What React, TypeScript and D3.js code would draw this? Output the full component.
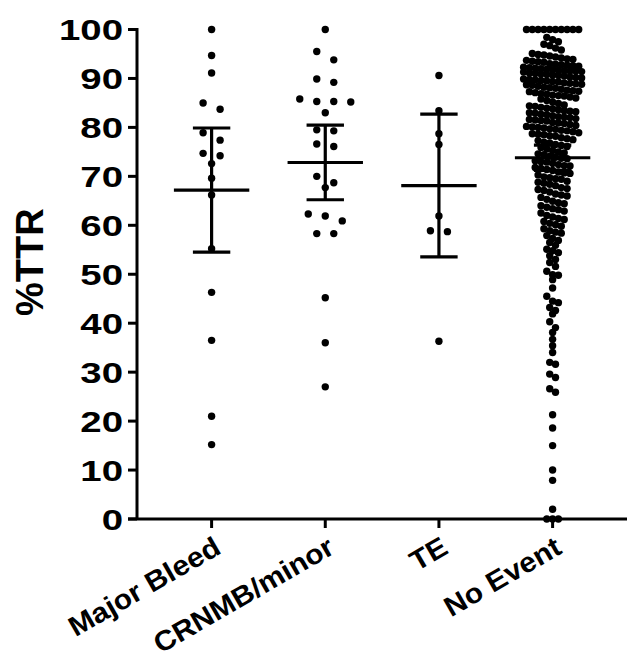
import React, { useRef, useEffect } from "react";
import * as d3 from "d3";

// %TTR per outcome group
const categories = ["Major Bleed", "CRNMB/minor", "TE", "No Event"];

const majorBleed = [
  100, 94.7, 91.1, 85.0, 83.7, 78.9, 77.4, 74.7, 74.2, 72.6, 69.6, 66.2, 55.2,
  46.3, 36.5, 21.0, 15.2,
];

const crnmbMinor = [
  100, 95.5, 93.8, 89.9, 89.2, 85.8, 85.3, 85.3, 85.2, 83.0, 79.5, 79.3, 76.6,
  76.1, 70.0, 68.7, 67.7, 62.3, 61.9, 60.9, 58.3, 58.3, 45.2, 36.0, 27.0,
];

const te = [90.6, 83.4, 78.7, 76.5, 61.9, 58.9, 58.7, 36.3];

const noEvent = [
  100, 100, 100, 100, 100, 100, 100, 100, 100, 100,
  98.4, 97.9, 97.5, 97.0, 96.7, 96.2, 95.8,
  95.1, 94.9, 94.8, 94.6, 94.4, 94.2, 94.0, 93.9, 93.7, 93.5, 93.4, 93.3, 93.0,
  92.9, 92.8, 92.7, 92.6, 92.5, 92.3, 92.2, 92.1, 92.0, 91.9, 91.8, 91.7, 91.6,
  91.5, 91.5, 91.4, 91.3, 91.1, 91.0, 90.9, 90.8, 90.7, 90.6, 90.5, 90.3, 90.2,
  90.1, 89.9, 89.8, 89.7, 89.6, 89.5, 89.4, 89.3, 89.1, 89.0, 88.9, 88.8, 88.7,
  88.6, 88.4, 88.2, 88.1, 88.0, 87.8, 87.6, 87.5, 87.4, 87.3, 87.1, 86.9, 86.8,
  86.6, 86.5, 86.4, 86.2, 86.0, 85.8, 85.5, 85.2, 84.9,
  84.6, 84.4, 84.3, 84.1, 83.9, 83.8, 83.6, 83.4, 83.3, 83.2, 83.0, 82.9, 82.7,
  82.6, 82.4, 82.2, 82.1, 82.0, 81.8, 81.6, 81.5, 81.4, 81.3, 81.0, 80.9, 80.8,
  80.6, 80.4, 80.2, 80.1, 80.0, 79.9, 79.7, 79.6, 79.4, 79.3, 79.1, 78.9, 78.7,
  78.6, 78.5, 78.3, 78.2, 77.9, 77.7, 77.5, 77.3, 77.0, 76.8, 76.5, 76.3, 76.1,
  75.9, 75.6, 75.3, 75.0,
  74.8, 74.6, 74.4, 74.1, 73.9, 73.7, 73.6, 73.2, 73.0, 72.9, 72.7, 72.4, 72.2,
  72.1, 71.8, 71.6, 71.4, 71.2, 70.9, 70.7, 70.6, 70.3, 69.9, 69.7, 69.5, 69.4,
  69.0, 68.8, 68.6, 68.4, 68.1, 67.7, 67.5, 67.3, 67.1, 66.8, 66.4, 66.2, 66.0,
  65.7, 65.3,
  64.9, 64.6, 64.4, 64.0, 63.7, 63.4, 63.2, 62.9, 62.5, 62.0, 61.7, 61.4, 61.2,
  60.8, 60.4, 60.1, 59.8, 59.3, 58.9, 58.6, 58.4, 57.9,
  57.3, 56.9, 56.5, 55.9, 55.1, 54.8, 54.4, 53.8, 53.0, 52.4,
  51.6, 50.6, 49.9, 49.8, 48.9, 47.2, 45.5, 44.5, 44.2, 43.2, 42.6, 41.9, 40.3,
  39.1, 38.1, 36.7, 35.4, 34.0, 32.0, 31.6, 29.6, 28.9, 26.6, 25.9, 21.3, 18.6,
  15.0, 10.0, 7.9, 2.0, 0, 0, 0,
];

const groups = [majorBleed, crnmbMinor, te, noEvent];
const yTicks = [0, 10, 20, 30, 40, 50, 60, 70, 80, 90, 100];

const width = 630;
const height = 661;

// two-sided 95% t critical value (Cornish-Fisher expansion)
const tCrit = (df: number) => {
  const z = 1.959964;
  return (
    z +
    (z ** 3 + z) / (4 * df) +
    (5 * z ** 5 + 16 * z ** 3 + 3 * z) / (96 * df * df)
  );
};

// GraphPad-ish column scatter: bin into rows, centre each row
const swarm = (
  values: number[],
  rowH: number,
  spacing: number,
  maxPerRow = Infinity
) => {
  const sorted = [...values].sort((a, b) => b - a);
  const rows: number[][] = [];
  sorted.forEach((v) => {
    const last = rows[rows.length - 1];
    if (last && last[0] - v < rowH && last.length < maxPerRow) last.push(v);
    else rows.push([v]);
  });
  return rows.flatMap((r) =>
    r.map((v, i) => ({ v, dx: (i - (r.length - 1) / 2) * spacing }))
  );
};

const ScatterChart = () => {
  const svgRef = useRef<SVGSVGElement>(null);

  useEffect(() => {
    const svg = d3.select(svgRef.current);
    svg.selectAll("*").remove();

    const axisX = 137;
    const axisY = 519;

    const x = d3.scalePoint().domain(categories).range([211.6, 552.6]);
    const y = d3.scaleLinear().domain([0, 100]).range([axisY, 29.5]);

    const font = "'Liberation Sans', Arial, sans-serif";

    // dots
    groups.forEach((vals, gi) => {
      const big = vals.length > 50;
      const pts = big ? swarm(vals, 1.3, 5.8, 11) : swarm(vals, 1.8, 17);
      const cx = x(categories[gi])!;
      svg
        .append("g")
        .selectAll("circle")
        .data(pts)
        .join("circle")
        .attr("cx", (d) => cx + d.dx)
        .attr("cy", (d) => y(d.v))
        .attr("r", 3.7)
        .attr("fill", "#000");
    });

    // mean with 95% CI
    groups.forEach((vals, gi) => {
      const cx = x(categories[gi])!;
      const m = d3.mean(vals)!;
      const ci =
        (tCrit(vals.length - 1) * d3.deviation(vals)!) / Math.sqrt(vals.length);
      const g = svg
        .append("g")
        .attr("stroke", "#000")
        .attr("stroke-width", 3.2);
      g.append("line")
        .attr("x1", cx)
        .attr("x2", cx)
        .attr("y1", y(m - ci))
        .attr("y2", y(m + ci));
      [m - ci, m + ci].forEach((v) =>
        g
          .append("line")
          .attr("x1", cx - 18.7)
          .attr("x2", cx + 18.7)
          .attr("y1", y(v))
          .attr("y2", y(v))
      );
      g.append("line")
        .attr("x1", cx - 37.7)
        .attr("x2", cx + 37.7)
        .attr("y1", y(m))
        .attr("y2", y(m));
    });

    // y axis
    const yAxis = svg.append("g").attr("stroke", "#000").attr("stroke-width", 3);
    yAxis
      .append("line")
      .attr("x1", axisX)
      .attr("x2", axisX)
      .attr("y1", y(100) - 1.5)
      .attr("y2", axisY);
    yAxis
      .selectAll("line.tick")
      .data(yTicks)
      .join("line")
      .attr("class", "tick")
      .attr("x1", axisX - 9)
      .attr("x2", axisX)
      .attr("y1", (d) => y(d))
      .attr("y2", (d) => y(d));

    svg
      .append("g")
      .selectAll("text")
      .data(yTicks)
      .join("text")
      .attr("transform", (d) => `translate(123,${y(d)}) scale(1.28,1)`)
      .attr("text-anchor", "end")
      .attr("dy", "0.36em")
      .attr("font-family", font)
      .attr("font-weight", "bold")
      .attr("font-size", 30)
      .text((d) => d);

    // x axis
    const xAxis = svg.append("g").attr("stroke", "#000").attr("stroke-width", 3);
    xAxis
      .append("line")
      .attr("x1", axisX - 9)
      .attr("x2", 627)
      .attr("y1", axisY)
      .attr("y2", axisY);
    xAxis
      .selectAll("line.tick")
      .data(categories)
      .join("line")
      .attr("class", "tick")
      .attr("x1", (d) => x(d)!)
      .attr("x2", (d) => x(d)!)
      .attr("y1", axisY)
      .attr("y2", axisY + 9);

    svg
      .append("g")
      .selectAll("text")
      .data(categories)
      .join("text")
      .attr(
        "transform",
        (d) => `translate(${x(d)! + 6},${axisY + 25}) rotate(-30) scale(1.07,1)`
      )
      .attr("text-anchor", "end")
      .attr("dy", "0.35em")
      .attr("font-family", font)
      .attr("font-weight", "bold")
      .attr("font-size", 28)
      .text((d) => d);

    // y title
    svg
      .append("text")
      .attr("transform", `translate(43,${(y(0) + y(100)) / 2 - 12}) rotate(-90)`)
      .attr("text-anchor", "middle")
      .attr("font-family", font)
      .attr("font-weight", "bold")
      .attr("font-size", 38)
      .text("%TTR");
  }, []);

  return (
    <svg
      ref={svgRef}
      width={width}
      height={height}
      style={{ position: "absolute", left: 0, top: 0, background: "#fff" }}
    />
  );
};

export default function App() {
  return <ScatterChart />;
}
